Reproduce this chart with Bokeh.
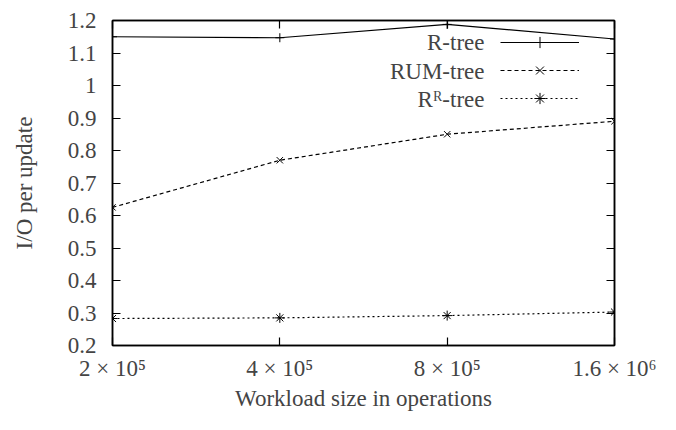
from bokeh.plotting import figure
from bokeh.models import (FixedTicker, LinearAxis, LogAxis, Range1d, Legend, LegendItem,
                          Label, CustomJSTickFormatter)
from bokeh.embed import file_html
from bokeh.resources import INLINE

workload = [2e5, 4e5, 8e5, 1.6e6]
x_tick_labels = ["2 × 10⁵", "4 × 10⁵", "8 × 10⁵", "1.6 × 10⁶"]
rtree = [1.150, 1.147, 1.188, 1.143]
rumtree = [0.625, 0.770, 0.850, 0.890]
rrtree = [0.283, 0.285, 0.292, 0.303]
y_ticks = [0.2, 0.3, 0.4, 0.5, 0.6, 0.7, 0.8, 0.9, 1.0, 1.1, 1.2]
y_tick_labels = ["0.2", "0.3", "0.4", "0.5", "0.6", "0.7", "0.8", "0.9", "1", "1.1", "1.2"]
series_names = ["R-tree", "RUM-tree", "Rᴿ-tree"]

FONT = "Liberation Serif"
FS = "23px"

p = figure(width=660, height=414, x_axis_type="log", output_backend="svg",
           toolbar_location=None, x_range=Range1d(2e5, 1.6e6), y_range=Range1d(0.2, 1.2),
           min_border_left=112, min_border_right=46, min_border_top=20, min_border_bottom=69)
p.grid.visible = False
p.outline_line_color = "black"
p.outline_line_width = 1.5
p.background_fill_color = "white"
p.border_fill_color = "white"

xticker = FixedTicker(ticks=workload)
yticker = FixedTicker(ticks=y_ticks)

def style(ax):
    ax.major_tick_in = 8
    ax.major_tick_out = 0
    ax.minor_tick_in = 0
    ax.minor_tick_out = 0
    ax.axis_line_width = 1.5
    ax.major_tick_line_width = 1.2
    ax.major_label_text_font = FONT
    ax.major_label_text_font_size = FS
    ax.axis_label_text_font = FONT
    ax.axis_label_text_font_size = FS
    ax.axis_label_text_font_style = "normal"

xa = p.xaxis[0]
xa.ticker = xticker
xa.major_label_overrides = {w: l for w, l in zip(workload, x_tick_labels)}
xa.axis_label = "Workload size in operations"
style(xa)
xa.major_label_standoff = 10
xa.axis_label_standoff = 2

ya = p.yaxis[0]
ya.ticker = yticker
ya.major_label_overrides = {t: l for t, l in zip(y_ticks, y_tick_labels)}
ya.axis_label = "I/O per update"
style(ya)
ya.major_label_standoff = 16
ya.axis_label_standoff = 28

blank = CustomJSTickFormatter(code="return ''")
top = LogAxis(ticker=xticker, formatter=blank)
style(top)
top.major_label_standoff = 0
p.add_layout(top, "above")
right = LinearAxis(ticker=yticker, formatter=blank)
style(right)
right.major_label_standoff = 0
p.add_layout(right, "right")

r1 = p.line(workload, rtree, line_color="black", line_width=1.2)
m1 = p.scatter(workload, rtree, marker="cross", size=9, line_color="black", line_width=1)
r2 = p.line(workload, rumtree, line_color="black", line_width=1.2, line_dash="4 3")
m2 = p.scatter(workload, rumtree, marker="x", size=9, line_color="black", line_width=1)
r3 = p.line(workload, rrtree, line_color="black", line_width=1.2, line_dash="2 3")
m3 = p.scatter(workload, rrtree, marker="asterisk", size=10, line_color="black", line_width=1)

# gnuplot-style key: text right-aligned to the left of the sample
legend = Legend(items=[
    LegendItem(label="", renderers=[r1, m1]),
    LegendItem(label="", renderers=[r2, m2]),
    LegendItem(label="", renderers=[r3, m3]),
], location=(388, 233))
legend.border_line_color = None
legend.background_fill_alpha = 0
legend.glyph_width = 79
legend.glyph_height = 28
legend.label_height = 28
legend.label_width = 0
legend.label_standoff = 0
legend.spacing = 0
legend.padding = 0
legend.margin = 0
p.add_layout(legend)

for name, yy in zip(series_names, [303, 274, 246]):
    p.add_layout(Label(x=372, y=yy, x_units="screen", y_units="screen", text=name,
                       text_align="right", text_baseline="middle",
                       text_font=FONT, text_font_size=FS))

open("out.html", "w").write(file_html(p, INLINE))
